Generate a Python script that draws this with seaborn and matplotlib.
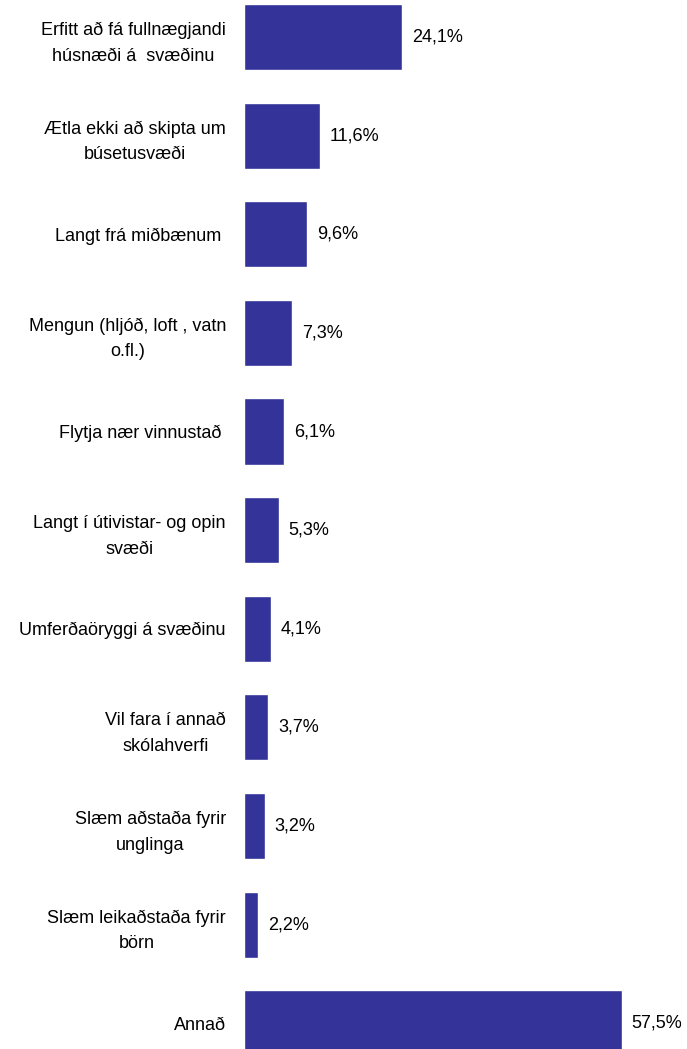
import pandas as pd
import numpy as np
import matplotlib.pyplot as plt
import seaborn as sns

# =============================================
# data
categories = [
    'Erfitt að fá fullnægjandi\nhúsnæði á  svæðinu',
    'Ætla ekki að skipta um\nbúsetusvæði',
    'Langt frá miðbænum ',
    'Mengun (hljóð, loft , vatn\no.fl.)',
    'Flytja nær vinnustað ',
    'Langt í útivistar- og opin\nsvæði',
    'Umferðaöryggi á svæðinu',
    'Vil fara í annað\nskólahverfi',
    'Slæm aðstaða fyrir\nunglinga',
    'Slæm leikaðstaða fyrir\nbörn',
    'Annað',
]
values = [24.1, 11.6, 9.6, 7.3, 6.1, 5.3, 4.1, 3.7, 3.2, 2.2, 57.5]
value_labels = ['24,1%', '11,6%', '9,6%', '7,3%', '6,1%', '5,3%', '4,1%', '3,7%', '3,2%', '2,2%', '57,5%']

df = pd.DataFrame({'cat': categories, 'val': values})

# =============================================
# plotting parameters
sns.set_style("white")
plt.rcParams['font.family'] = ['Liberation Sans', 'DejaVu Sans']
labelFontSize = 13
barColor = '#333399'

f = plt.figure(figsize=(6.87, 10.49), dpi=100)
ax = f.add_axes([244 / 687, 0, 1 - 244 / 687, 1])

sns.barplot(x='val', y='cat', data=df, orient='h', color=barColor, saturation=1,
            width=0.67, ax=ax)

# value labels at the end of each bar
for i, (v, lab) in enumerate(zip(values, value_labels)):
    ax.annotate(lab, xy=(v, i), xytext=(7, 0), textcoords='offset points',
                ha='left', va='center', fontsize=labelFontSize, color='k')

# aesthetics
ax.set_xlim(0, 57.5 * (687 - 244) / 378)
ax.set_ylim(10.26, -0.375)
ax.set_xlabel('')
ax.set_ylabel('')
ax.set_xticks([])
ax.tick_params(axis='y', length=0, pad=13, labelsize=labelFontSize, labelcolor='k')
for t in ax.get_yticklabels():
    t.set_multialignment('center')
    t.set_linespacing(1.65)
sns.despine(ax=ax, left=True, bottom=True)

plt.savefig('out.png', dpi=100)
